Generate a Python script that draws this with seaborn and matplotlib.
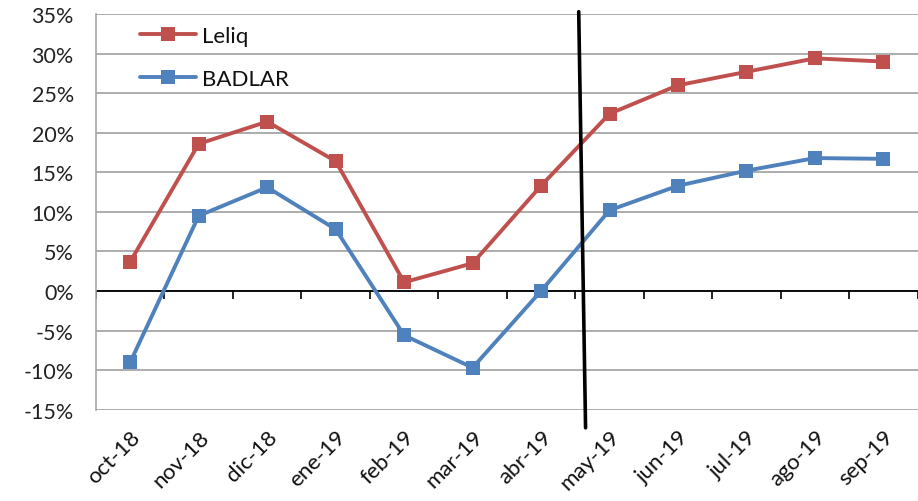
import pandas as pd
import numpy as np
import seaborn as sns
import matplotlib.pyplot as plt

meses = ["oct-18", "nov-18", "dic-18", "ene-19", "feb-19", "mar-19",
         "abr-19", "may-19", "jun-19", "jul-19", "ago-19", "sep-19"]
leliq = [3.7, 18.6, 21.4, 16.4, 1.1, 3.5, 13.3, 22.4, 26.0, 27.7, 29.4, 29.0]
badlar = [-9.0, 9.5, 13.1, 7.8, -5.6, -9.7, 0.0, 10.2, 13.3, 15.2, 16.8, 16.7]

df = pd.DataFrame({"pos": np.arange(len(meses)), "mes": meses,
                   "Leliq": leliq, "BADLAR": badlar})

sns.set_style("white")
plt.rcParams['font.family'] = ['Lato', 'DejaVu Sans']

fig = plt.figure(figsize=(9.18, 5.02), dpi=100)
ax = fig.add_axes([0.1046, 0.182, 0.895, 0.788])

colores = {"Leliq": "#C0504D", "BADLAR": "#4F81BD"}
for serie in ["Leliq", "BADLAR"]:
    sns.lineplot(data=df, x="pos", y=serie, ax=ax, color=colores[serie],
                 marker="s", markersize=10, markeredgewidth=0,
                 linewidth=2.8, label=serie, zorder=3)

ax.set_xlim(-0.5, len(meses) - 0.5)
ax.set_ylim(-15, 35)
ax.set_yticks(np.arange(-15, 36, 5))
ax.set_yticklabels([f"{v}%" for v in range(-15, 36, 5)])
ax.yaxis.grid(True, color="#A6A6A6", linewidth=1.3)
ax.set_axisbelow(True)

ax.set_xticks(df["pos"])
ax.set_xticklabels(meses, rotation=45, ha="right", rotation_mode="anchor")
ax.tick_params(axis="x", length=0, pad=12, labelsize=16, colors="#111111")
ax.tick_params(axis="y", length=8, width=1.2, color="#A6A6A6", pad=8,
               labelsize=15.5, colors="#222222")
ax.set_xlabel("")
ax.set_ylabel("")

for s in ["top", "right", "bottom"]:
    ax.spines[s].set_visible(False)
ax.spines["left"].set_color("#A6A6A6")
ax.spines["left"].set_linewidth(1.2)

# eje de categorias en 0 con marcas entre meses
ax.axhline(0, color="black", linewidth=1.3, zorder=2)
limites = np.arange(-0.5, len(meses), 1.0)
ax.vlines(limites, -1.0, 0, color="black", linewidth=1.2, zorder=2)

# linea vertical marcada a mano
ax.plot([6.55, 6.65], [35.3, -17.3], color="black", linewidth=2.6,
        clip_on=False, zorder=4)

leg = ax.legend(loc="upper left", bbox_to_anchor=(0.054, 0.97), frameon=False,
                fontsize=16, handlelength=2.5, labelspacing=1.05,
                handletextpad=0.25, borderpad=0, borderaxespad=0)
for t in leg.get_texts():
    t.set_color("#111111")

fig.savefig("out.png", dpi=100)
